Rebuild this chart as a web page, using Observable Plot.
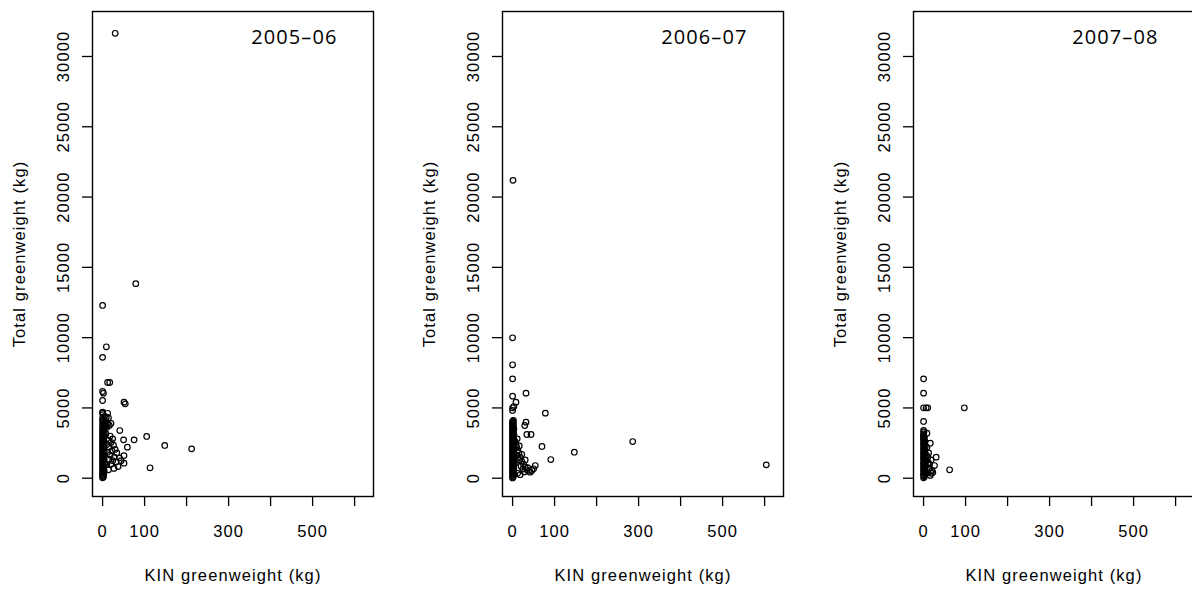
<!DOCTYPE html>
<html><head><meta charset="utf-8">
<script src="https://cdn.jsdelivr.net/npm/d3@7"></script>
<script src="https://cdn.jsdelivr.net/npm/@observablehq/plot@0.6"></script>
<style>
html,body{margin:0;padding:0;background:#fff;overflow:hidden;}
#wrap{position:relative;width:1192px;height:592px;overflow:hidden;background:#fff;}
.panel{position:absolute;top:0;width:410px;height:592px;}
.panel svg{max-width:none !important;}
svg text{letter-spacing:1.1px;}
g[aria-label="season"] text{letter-spacing:0;}
</style></head><body><div id="wrap"></div>
<script>
// Seasons (panel labels)
const seasons = ["2005–06", "2006–07", "2007–08"];

// [KIN greenweight (kg), Total greenweight (kg)] per landing
const season2005 = [
  [30,31650],[79,13840],[0,12290],[9,9350],[0,8600],[12,6810],[17,6810],[0,6170],[2,6050],[0,5530],
  [51,5410],[54,5290],[0,4700],[12,4620],[14,4300],[41,3390],[24,2800],[50,2730],[75,2730],[105,2970],
  [59,2210],[148,2330],[212,2090],[51,1610],[51,1070],[37,830],[113,740],
  [14,2700],[20,2550],[10,2400],[26,2350],[16,2200],[30,2050],[22,1950],[12,1850],[34,1800],[18,1650],
  [28,1500],[40,1450],[15,1350],[24,1250],[32,1150],[20,1000],[44,1250],[10,950],[27,700],[14,600],
  [8,3150],[18,3000],[10,3600],[16,3750],[6,4000],[20,3900],[9,4350],
  [0,30],[2,90],[1,160],[0,230],[3,300],[0,370],[1,440],[4,510],[0,580],[2,650],[0,720],[1,790],[3,860],
  [0,930],[5,1000],[1,1070],[0,1140],[2,1210],[0,1280],[4,1350],[1,1420],[0,1490],[2,1560],[0,1630],
  [3,1700],[1,1770],[0,1840],[4,1910],[0,1980],[2,2050],[1,2120],[0,2190],[3,2260],[0,2330],[2,2400],
  [1,2470],[0,2540],[4,2610],[0,2680],[2,2750],[1,2820],[0,2890],[3,2960],[0,3030],[1,3100],[4,3170],
  [0,3240],[2,3310],[0,3380],[3,3450],[1,3520],[0,3590],[6,3640],[2,3700],[9,3760],[0,3820],[4,3880],
  [12,3900],[1,3960],[7,4020],[0,4100],[3,4180],[0,4280],[5,4400],[1,4520],[0,4650]
];
const season2006 = [
  [1,21190],[0,9990],[0,8070],[0,7070],[0,5840],[8,5410],[32,6050],[0,5010],[0,4820],[3,5100],
  [78,4630],[32,3990],[29,3750],[34,3110],[44,3110],[70,2260],[147,1850],[91,1330],[286,2610],[604,950],
  [42,430],[50,670],[54,900],[46,550],
  [6,2600],[8,2400],[10,2200],[12,2000],[15,1800],[9,1600],[18,1500],[14,1300],[22,1200],[26,1000],
  [20,850],[30,800],[24,650],[34,600],[28,450],[38,500],[12,350],[18,250],[7,1100],[16,2300],[22,1700],
  [11,2800],[30,1300],[36,750],
  [0,20],[1,80],[2,140],[0,200],[3,260],[1,320],[0,380],[2,440],[0,500],[1,560],[3,620],[0,680],[2,740],
  [0,800],[1,860],[0,920],[3,980],[1,1040],[0,1100],[2,1160],[0,1220],[1,1280],[3,1340],[0,1400],[2,1460],
  [0,1520],[1,1580],[0,1640],[3,1700],[1,1760],[0,1820],[2,1880],[0,1940],[1,2000],[3,2060],[0,2120],
  [2,2180],[0,2240],[1,2300],[0,2360],[3,2420],[1,2480],[0,2540],[2,2600],[0,2660],[1,2720],[3,2780],
  [0,2840],[2,2900],[0,2960],[1,3020],[0,3080],[3,3140],[1,3200],[0,3260],[2,3320],[0,3380],[1,3440],
  [3,3500],[0,3560],[2,3620],[0,3680],[1,3740],[0,3800],[2,3860],[0,3920],[1,3980],[0,4050],[2,4110]
];
const season2007 = [
  [0,7070],[0,6050],[0,5010],[6,5010],[10,5010],[97,5010],[0,4040],[0,3400],[0,3040],[16,2490],
  [30,1500],[10,1500],[26,900],[20,550],[62,600],[8,3200],[14,1000],[18,1300],[12,700],[22,400],
  [8,2200],[12,1800],[6,1200],[14,700],[9,400],[18,350],[11,1100],[7,1650],[16,200],
  [0,30],[2,100],[1,170],[0,240],[4,310],[0,380],[2,450],[1,520],[0,590],[3,660],[0,730],[1,800],[5,870],
  [0,940],[2,1010],[0,1080],[1,1150],[3,1220],[0,1290],[2,1360],[0,1430],[1,1500],[4,1570],[0,1640],
  [2,1710],[0,1780],[1,1850],[3,1920],[0,1990],[2,2060],[0,2130],[1,2200],[4,2270],[0,2340],[2,2410],
  [0,2480],[1,2550],[3,2620],[0,2690],[1,2760],[0,2830],[2,2900],[0,2970],[0,3150],[1,3300]
];

// Axis ticks and labels
const yTicks = [0, 5000, 10000, 15000, 20000, 25000, 30000];
const xTicks = [0, 100, 200, 300, 400, 500, 600];
const xTickLabels = ["0", "100", "", "300", "", "500", ""];
const xTitle = "KIN greenweight (kg)";
const yTitle = "Total greenweight (kg)";

function panel(season, pts) {
  const data = pts.map(([kin, total]) => ({kin, total}));
  return Plot.plot({
    width: 410, height: 592,
    marginLeft: 92, marginRight: 37, marginTop: 11, marginBottom: 96,
    style: {fontFamily: "'Liberation Sans', Arial, sans-serif", fontSize: "16.5px", color: "#000", background: "#fff", overflow: "visible", maxWidth: "none"},
    x: {domain: [-24, 645]},
    y: {domain: [-1300, 33200]},
    marks: [
      Plot.frame({stroke: "#000", strokeWidth: 1.4}),
      Plot.axisX({ticks: xTicks, tickSize: 10, tickPadding: 19, tickFormat: d => xTickLabels[xTicks.indexOf(d)], label: null, strokeWidth: 1.3}),
      Plot.axisY({ticks: yTicks, tickSize: 10, tickRotate: -90, tickPadding: 14, tickFormat: d => String(d), label: null, strokeWidth: 1.3}),
      Plot.text([xTitle], {frameAnchor: "bottom", dy: 79, text: d => d, textAnchor: "middle", lineAnchor: "middle"}),
      Plot.text([yTitle], {frameAnchor: "left", dx: -73, rotate: -90, text: d => d, textAnchor: "middle", lineAnchor: "middle"}),
      Plot.text([season], {frameAnchor: "top-right", dx: -36, dy: 18, textAnchor: "end", lineAnchor: "top", fontFamily: "'Open Sans', sans-serif", fontSize: 20, ariaLabel: "season"}),
      Plot.dot(data, {x: "kin", y: "total", r: 2.8, stroke: "#000", strokeWidth: 1.2, fill: "none"})
    ]
  });
}

const wrap = document.getElementById("wrap");
const all = [season2005, season2006, season2007];
const lefts = [0, 410, 821];
seasons.forEach((s, i) => {
  const div = document.createElement("div");
  div.className = "panel";
  div.style.left = lefts[i] + "px";
  div.appendChild(panel(s, all[i]));
  wrap.appendChild(div);
});
</script>
</body></html>
